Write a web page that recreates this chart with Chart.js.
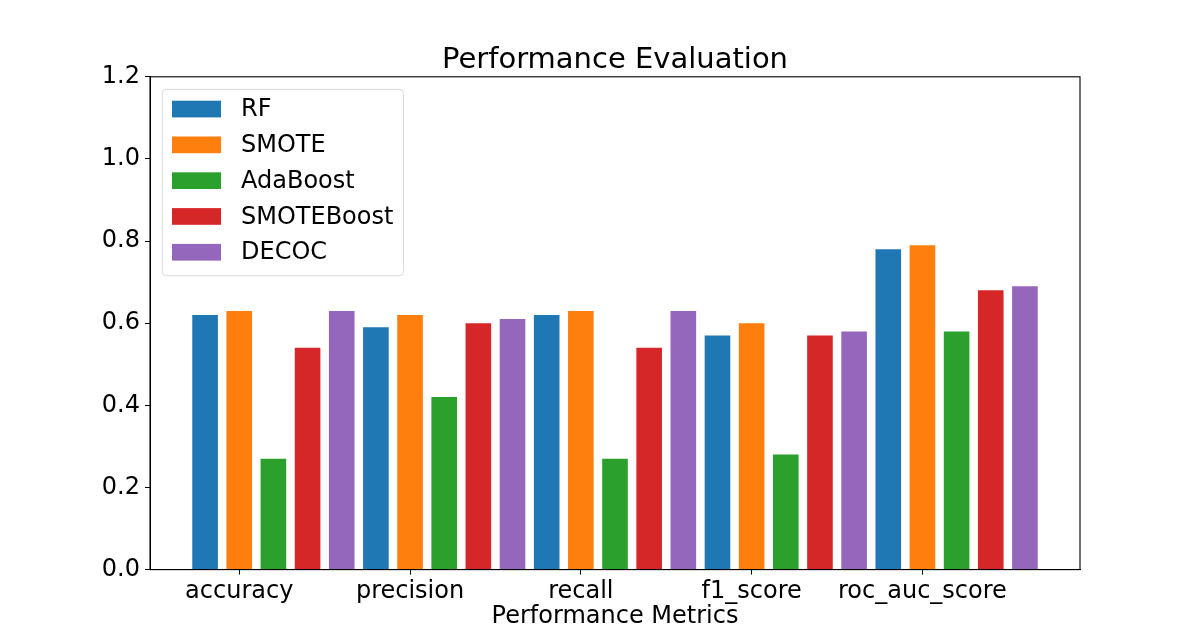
<!DOCTYPE html>
<html>
<head>
<meta charset="utf-8">
<title>Performance Evaluation</title>
<script src="https://cdn.jsdelivr.net/npm/chart.js@4"></script>
<style>
	html, body { margin: 0; padding: 0; background: #fff; }
	#wrap { width: 1200px; height: 640px; }
</style>
</head>
<body>
<div id="wrap"><canvas id="perfChart" width="1200" height="640"></canvas></div>
<script>
const metrics = ["accuracy", "precision", "recall", "f1_score", "roc_auc_score"];
const models = ["RF", "SMOTE", "AdaBoost", "SMOTEBoost", "DECOC"];
const rfScores = [0.62, 0.59, 0.62, 0.57, 0.78];
const smoteScores = [0.63, 0.62, 0.63, 0.6, 0.79];
const adaBoostScores = [0.27, 0.42, 0.27, 0.28, 0.58];
const smoteBoostScores = [0.54, 0.6, 0.54, 0.57, 0.68];
const decocScores = [0.63, 0.61, 0.63, 0.58, 0.69];
const yTicks = [0, 0.2, 0.4, 0.6, 0.8, 1.0, 1.2];

const colors = ["#1f77b4", "#ff7f0e", "#2ca02c", "#d62728", "#9467bd"];
const allScores = [rfScores, smoteScores, adaBoostScores, smoteBoostScores, decocScores];
const groupStep = 0.2; // offset between bars inside one group
const fontFamily = "'DejaVu Sans', sans-serif";

// Bars of model k sit at metric index + k * step, ticks sit under the 2nd bar
const datasets = models.map((name, k) => ({
	label: name,
	data: allScores[k].map((v, i) => ({ x: i + k * groupStep, y: v })),
	backgroundColor: colors[k],
	borderWidth: 0,
	grouped: false,
	categoryPercentage: 0.75,
	barPercentage: 1,
}));
const tickPositions = metrics.map((m, i) => i + groupStep);

// matplotlib-like legend box in the top-left of the plot
const boxLegend = {
	id: "boxLegend",
	afterDraw(chart) {
		const { ctx, chartArea } = chart;
		const left = chartArea.left + 12.3;
		const top = chartArea.top + 12.5;
		const rowH = 35.8;
		const textX = left + 78.7;
		ctx.save();
		ctx.font = "24px " + fontFamily;
		const maxW = Math.max(...chart.data.datasets.map((d) => ctx.measureText(d.label).width));
		const w = textX - left + maxW + 10;
		const h = rowH * chart.data.datasets.length + 7.5;
		ctx.beginPath();
		ctx.roundRect(left, top, w, h, 4);
		ctx.fillStyle = "rgba(255,255,255,0.8)";
		ctx.fill();
		ctx.strokeStyle = "#d9d9d9";
		ctx.lineWidth = 1;
		ctx.stroke();
		ctx.textBaseline = "middle";
		chart.data.datasets.forEach((d, k) => {
			const cy = top + 19.7 + k * rowH;
			ctx.fillStyle = d.backgroundColor;
			ctx.fillRect(left + 9.7, cy - 8.3, 49, 16.7);
			ctx.fillStyle = "#000";
			ctx.fillText(d.label, textX, cy + 1);
		});
		ctx.restore();
	},
};

// full frame around the axes
const frame = {
	id: "frame",
	afterDraw(chart) {
		const { ctx, chartArea: a } = chart;
		ctx.save();
		ctx.strokeStyle = "#000";
		ctx.lineWidth = 1.1;
		ctx.strokeRect(a.left, a.top, a.right - a.left, a.bottom - a.top);
		ctx.restore();
	},
};

new Chart(document.getElementById("perfChart").getContext("2d"), {
	type: "bar",
	data: { datasets: datasets },
	options: {
		responsive: false,
		devicePixelRatio: 1,
		animation: false,
		layout: { padding: { left: 30, right: 0, top: 0, bottom: 0 } },
		plugins: {
			legend: { display: false },
			tooltip: { enabled: false },
			title: {
				display: true,
				text: "Performance Evaluation",
				color: "#000",
				font: { family: fontFamily, size: 29, weight: "normal", lineHeight: 1.0 },
				padding: { top: 46, bottom: 1.8 },
			},
		},
		scales: {
			x: {
				type: "linear",
				min: -0.3225,
				max: 5.1225,
				offset: false,
				afterBuildTicks: (scale) => {
					scale.ticks = tickPositions.map((v) => ({ value: v }));
				},
				afterFit: (scale) => {
					scale.height = 70.4;
				},
				ticks: {
					color: "#000",
					font: { family: fontFamily, size: 24 },
					padding: 3,
					maxRotation: 0,
					autoSkip: false,
					callback: (value, index) => metrics[index],
				},
				grid: { drawOnChartArea: false, offset: false, tickLength: 5, color: "#000" },
				border: { color: "#000", width: 1 },
				title: {
					display: true,
					text: "Performance Metrics",
					color: "#000",
					font: { family: fontFamily, size: 24, lineHeight: 1.2 },
					padding: { top: 0, bottom: 9 },
				},
			},
			y: {
				min: 0,
				max: 1.2,
				afterBuildTicks: (scale) => {
					scale.ticks = yTicks.map((v) => ({ value: v }));
				},
				afterFit: (scale) => {
					scale.width = 120;
				},
				ticks: {
					color: "#000",
					font: { family: fontFamily, size: 24 },
					padding: 5,
					callback: (value) => value.toFixed(1),
				},
				grid: { drawOnChartArea: false, tickLength: 5, color: "#000" },
				border: { color: "#000", width: 1 },
			},
			// empty right-hand axis, only reserves the margin right of the plot
			yRight: {
				position: "right",
				min: 0,
				max: 1.2,
				afterFit: (scale) => {
					scale.width = 120;
				},
				ticks: { display: false },
				grid: { display: false },
				border: { display: false },
			},
		},
	},
	plugins: [boxLegend, frame],
});
</script>
</body>
</html>
